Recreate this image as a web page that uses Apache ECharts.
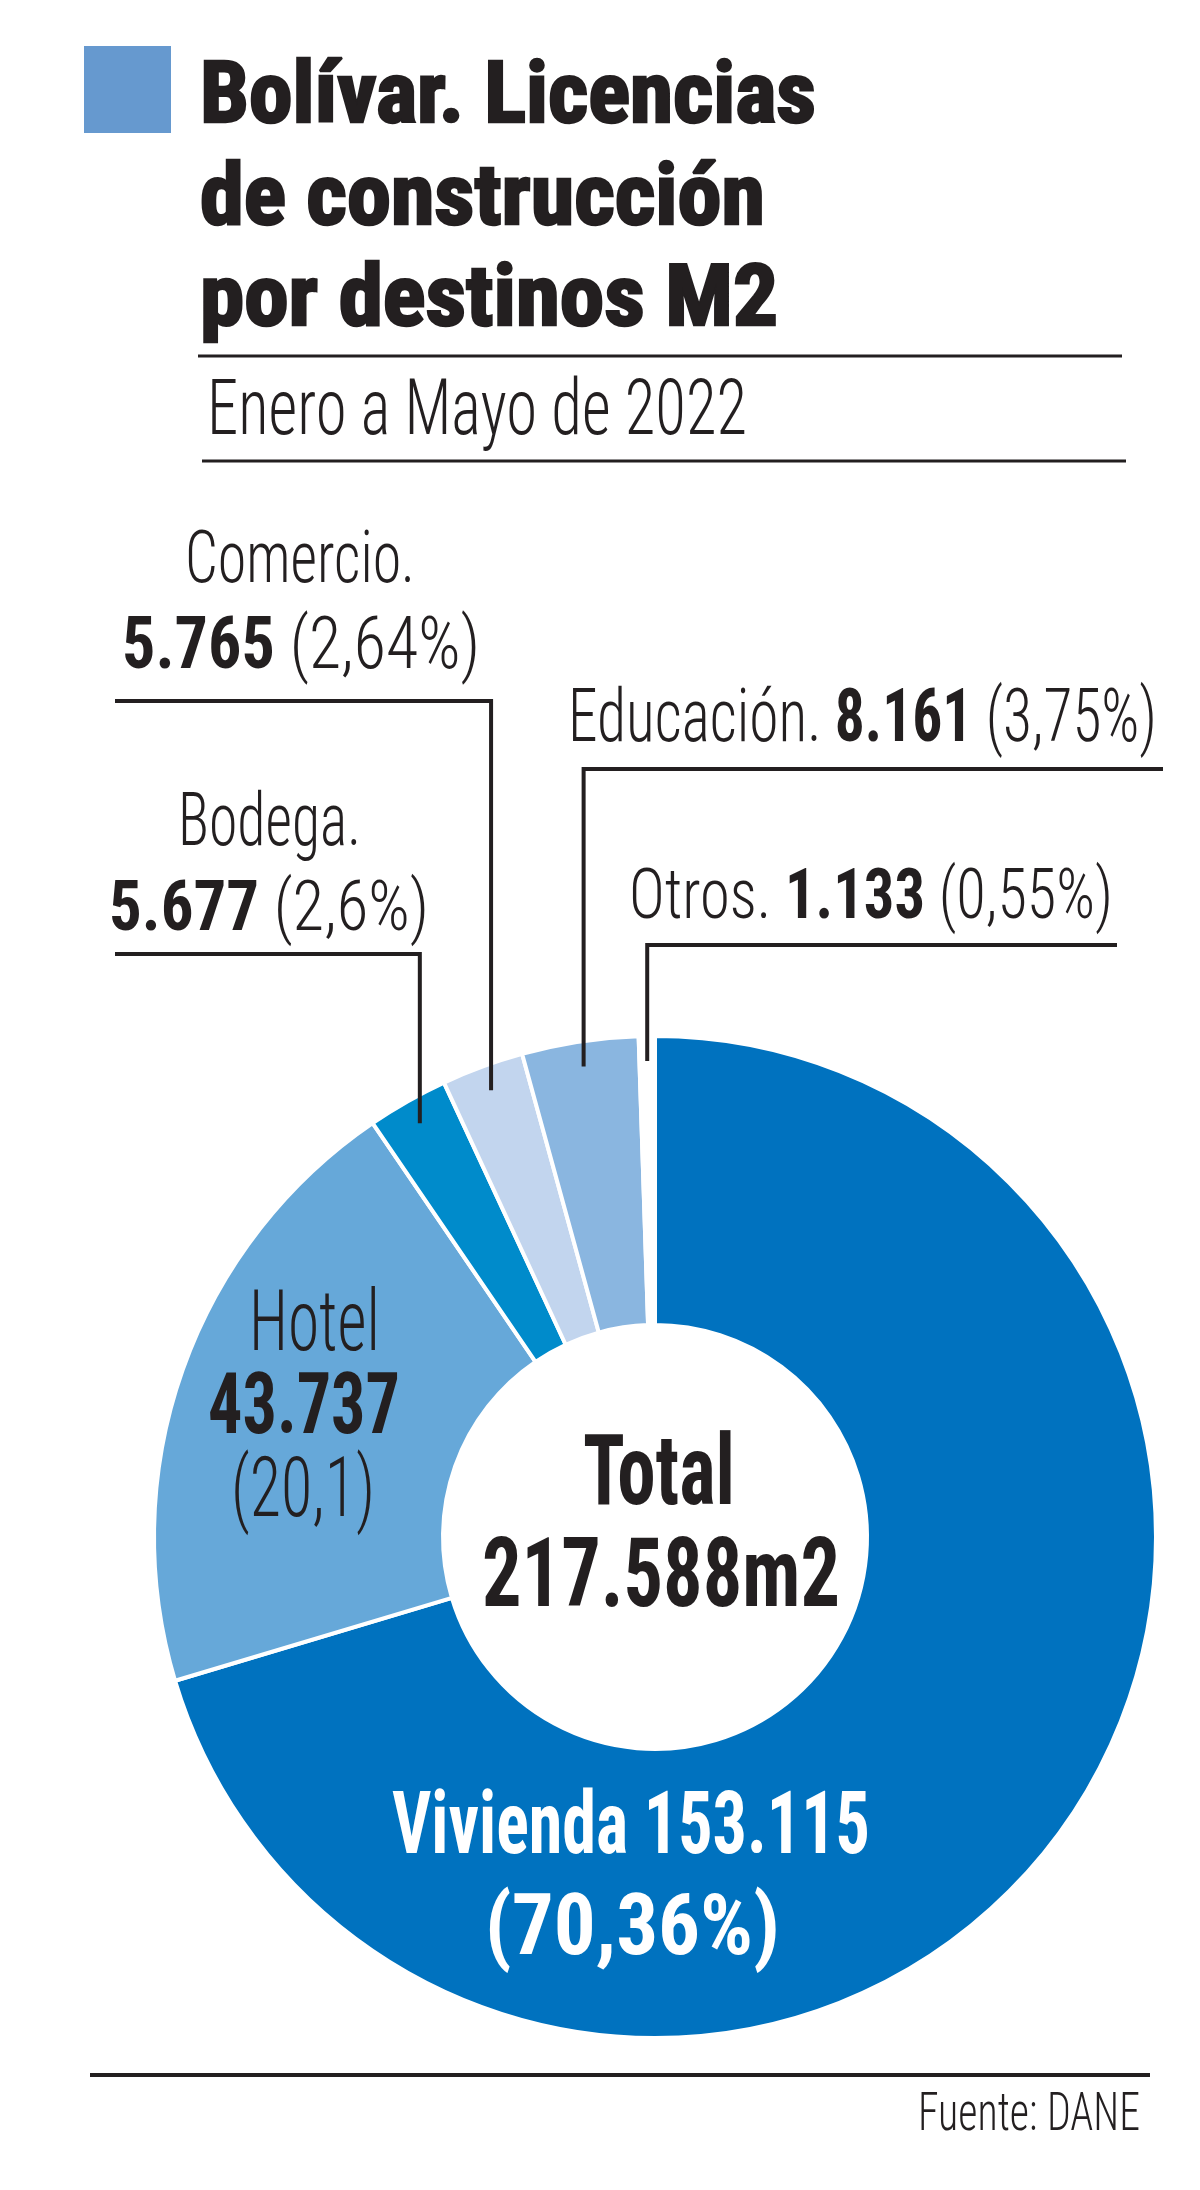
<!DOCTYPE html>
<html><head><meta charset="utf-8">
<script src="https://cdn.jsdelivr.net/npm/echarts@6/dist/echarts.min.js"></script>
<style>html,body{margin:0;padding:0;background:#fff}#c{width:1200px;height:2190px}</style>
</head><body><div id="c"></div>
<script>
// ---- data ----
const categories = ['Vivienda', 'Hotel', 'Bodega', 'Comercio', 'Educación', 'Otros'];
const values = [153115, 43737, 5677, 5765, 8161, 1133];
const shareLabels = ['70,36%', '20,1', '2,6%', '2,64%', '3,75%', '0,55%'];
const totalText = ['Total', '217.588m2'];
const titleLines = ['Bolívar. Licencias', 'de construcción', 'por destinos M2'];
const subtitle = 'Enero a Mayo de 2022';
const source = 'Fuente: DANE';
const colors = ['#0072BF', '#66A8D9', '#008BCB', '#C2D5EE', '#8AB6E0', '#FFFFFF'];

const fmt = v => String(v).replace(/\B(?=(\d{3})+(?!\d))/g, '.');

// ---- font detection ----
const cv = document.createElement('canvas').getContext('2d');
function hasFont(name) {
  const s = 'abcdefghijklmnopqrstuvwxyzABCDEFGHIJKLMNOPQRSTUVWXYZ0123456789';
  for (const base of ['monospace', 'serif']) {
    cv.font = '72px ' + base; const a = cv.measureText(s).width;
    cv.font = '72px "' + name + '", ' + base; const b = cv.measureText(s).width;
    if (Math.abs(a - b) > 0.5) return true;
  }
  return false;
}
const candidates = ['Roboto Condensed', 'Noto Sans ExtraCondensed', 'Noto Sans Condensed', 'Liberation Sans Narrow', 'DejaVu Sans Condensed', 'Roboto', 'Noto Sans', 'Liberation Sans'];
const avail = candidates.filter(hasFont);
const FAM = avail.length ? '"' + avail[0] + '"' : 'sans-serif';
const INK = '#231F20';

function metrics(weight) {
  cv.font = weight + ' 100px ' + FAM;
  cv.textBaseline = 'alphabetic';
  const cap = cv.measureText('H').actualBoundingBoxAscent / 100;
  cv.textBaseline = 'middle';
  const mid = cv.measureText('H').actualBoundingBoxDescent / 100;
  cv.textBaseline = 'alphabetic';
  return { cap, mid };
}
// segs: [{t, w}], placed so that the line spans left..right, cap top..baseline
function textEl(segs, left, right, capTop, baseline, fill, strokeW) {
  const w0 = segs[0].w;
  const m = metrics(w0);
  const fs = (baseline - capTop) / m.cap;
  let nat = 0;
  segs.forEach(s => { cv.font = s.w + ' ' + fs + 'px ' + FAM; nat += cv.measureText(s.t).width; });
  const sx = (right - left) / nat;
  const rich = {};
  let str = '';
  segs.forEach((s, i) => {
    const st = { fontSize: fs, fontWeight: s.w, fontFamily: FAM, fill: fill };
    if (strokeW) { st.stroke = fill; st.lineWidth = strokeW; }
    rich['s' + i] = st;
    str += '{s' + i + '|' + s.t + '}';
  });
  const style = {
    text: str, rich: rich, fontSize: fs, fontFamily: FAM, fontWeight: w0, fill: fill,
    textAlign: 'center', textVerticalAlign: 'middle', align: 'center', verticalAlign: 'middle'
  };
  if (strokeW) { style.stroke = fill; style.lineWidth = strokeW; }
  return { type: 'text', x: (left + right) / 2, y: baseline - m.mid * fs, scaleX: sx, z: 100, silent: true, style: style };
}
const L = (t) => ({ t: t, w: '300' });
const B = (t) => ({ t: t, w: 'bold' });

// ---- chart ----
const chart = echarts.init(document.getElementById('c'), null, { renderer: 'canvas' });
const pieCenter = [655, 1537];
chart.setOption({
  animation: false,
  backgroundColor: '#ffffff',
  series: [{
    type: 'pie',
    center: pieCenter,
    radius: [212, 501],
    startAngle: 90,
    clockwise: true,
    silent: true,
    label: { show: false },
    labelLine: { show: false },
    emphasis: { disabled: true },
    itemStyle: { borderColor: '#ffffff', borderWidth: 4 },
    data: categories.map((c, i) => ({ name: c, value: values[i], itemStyle: { color: colors[i] } }))
  }]
});

// leader lines anchored on the slice layout computed by the library
let layouts = null;
try {
  const d = chart.getModel().getSeriesByIndex(0).getData();
  layouts = categories.map((c, i) => d.getItemLayout(i));
} catch (e) { layouts = null; }
function anchor(i) {
  let cx, cy, r, mid;
  if (layouts && layouts[i]) {
    const Ly = layouts[i];
    cx = Ly.cx; cy = Ly.cy; r = Ly.r; mid = (Ly.startAngle + Ly.endAngle) / 2;
  } else {
    const tot = values.reduce((a, b) => a + b, 0);
    let before = 0; for (let k = 0; k < i; k++) before += values[k];
    mid = -Math.PI / 2 + 2 * Math.PI * (before + values[i] / 2) / tot;
    cx = pieCenter[0]; cy = pieCenter[1]; r = 501;
  }
  return [cx + 0.95 * r * Math.cos(mid), cy + 0.95 * r * Math.sin(mid)];
}
const leaderSpec = [
  { i: 2, yH: 954, xEnd: 115 },
  { i: 3, yH: 701, xEnd: 115 },
  { i: 4, yH: 769, xEnd: 1163 },
  { i: 5, yH: 945, xEnd: 1117 }
];
const graphics = [];
leaderSpec.forEach(s => {
  const p = anchor(s.i);
  graphics.push({
    type: 'polyline', z: 90, silent: true,
    shape: { points: [[s.xEnd, s.yH], [p[0], s.yH], [p[0], p[1]]] },
    style: { stroke: INK, lineWidth: 4, fill: null, lineJoin: 'miter' }
  });
});

// header
graphics.push({ type: 'rect', z: 100, silent: true, shape: { x: 84, y: 46, width: 87, height: 87 }, style: { fill: '#6699CF' } });
graphics.push(textEl([B(titleLines[0])], 200, 816, 61, 122, INK, 2.5));
graphics.push(textEl([B(titleLines[1])], 200, 765, 163, 224, INK, 2.5));
graphics.push(textEl([B(titleLines[2])], 200, 778, 264, 325, INK, 2.5));
graphics.push({ type: 'line', z: 100, silent: true, shape: { x1: 198, y1: 356, x2: 1122, y2: 356 }, style: { stroke: INK, lineWidth: 3 } });
graphics.push(textEl([L(subtitle)], 207, 747, 379, 434, INK));
graphics.push({ type: 'line', z: 100, silent: true, shape: { x1: 202, y1: 461, x2: 1126, y2: 461 }, style: { stroke: INK, lineWidth: 3 } });

// labels
const pct = i => ' (' + shareLabels[i] + ')';
graphics.push(textEl([L(categories[3] + '.')], 185, 415, 531, 582, INK));
graphics.push(textEl([B(fmt(values[3])), L(pct(3))], 122, 480, 616, 668, INK));
graphics.push(textEl([L(categories[4] + '. '), B(fmt(values[4])), L(pct(4))], 568, 1157, 689, 741, INK));
graphics.push(textEl([L(categories[2] + '.')], 178, 361, 793, 845, INK));
graphics.push(textEl([B(fmt(values[2])), L(pct(2))], 109, 429, 879, 930, INK));
graphics.push(textEl([L(categories[5] + '. '), B(fmt(values[5])), L(pct(5))], 629, 1113, 868, 918, INK));
graphics.push(textEl([L(categories[1])], 249, 380, 1290, 1350, INK));
graphics.push(textEl([B(fmt(values[1]))], 208, 400, 1372, 1433, INK));
graphics.push(textEl([L('(' + shareLabels[1] + ')')], 231, 375, 1457, 1516, INK));
graphics.push(textEl([B(totalText[0])], 583, 735, 1433, 1504, INK));
graphics.push(textEl([B(totalText[1])], 482, 840, 1536, 1606, INK));
graphics.push(textEl([B(categories[0] + ' ' + fmt(values[0]))], 392, 870, 1790, 1853, '#FFFFFF'));
graphics.push(textEl([B('(' + shareLabels[0] + ')')], 485, 780, 1892, 1954, '#FFFFFF'));

// footer
graphics.push({ type: 'line', z: 100, silent: true, shape: { x1: 90, y1: 2075, x2: 1150, y2: 2075 }, style: { stroke: INK, lineWidth: 4 } });
graphics.push(textEl([L(source)], 918, 1140, 2092, 2130, INK));

chart.setOption({ graphic: graphics });
</script></body></html>
